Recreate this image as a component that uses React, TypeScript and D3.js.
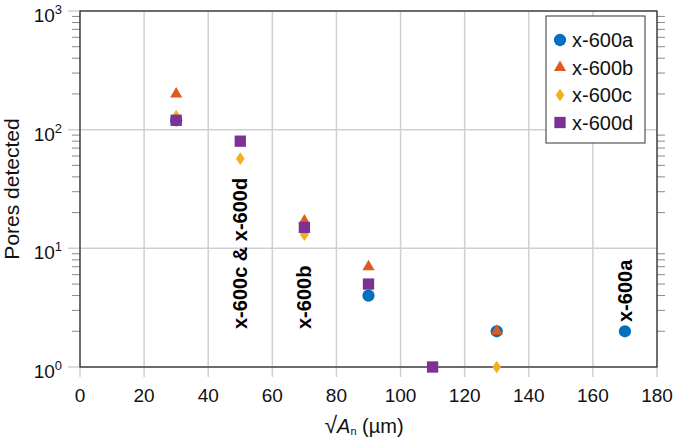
import React, { useEffect, useRef } from 'react';
import * as d3 from 'd3';

// pore size bins (sqrt area, µm) and counts per specimen
const seriesNames = ['x-600a', 'x-600b', 'x-600c', 'x-600d'];
const seriesColors = ['#0070C0', '#E0591D', '#F2B01E', '#7E3195'];
const xA = [30, 90, 130, 170];
const yA = [120, 4, 2, 2];
const xB = [30, 70, 90, 130];
const yB = [200, 17, 7, 2];
const xC = [30, 50, 70, 130];
const yC = [130, 57, 13, 1];
const xD = [30, 50, 70, 90, 110];
const yD = [120, 80, 15, 5, 1];
const xTicks = [0, 20, 40, 60, 80, 100, 120, 140, 160, 180];
const yTicks = [1, 10, 100, 1000];
const annotations = [
    { x: 50, y: 329, text: 'x-600c & x-600d' },
    { x: 70, y: 329, text: 'x-600b' },
    { x: 170, y: 322, text: 'x-600a' },
];

const App = () => {
    const ref = useRef<SVGSVGElement>(null);

    useEffect(() => {
        const svg = d3.select(ref.current);
        svg.selectAll('*').remove();

        const left = 80, right = 657, top = 11, bottom = 367;
        const font = 'Liberation Sans, Arial, sans-serif';

        const x = d3.scaleLinear().domain([0, 180]).range([left, right]);
        const y = d3.scaleLog().domain([1, 1000]).range([bottom, top]);

        // grid
        const grid = svg.append('g').attr('stroke', '#d0d0d0').attr('stroke-width', 1.5);
        xTicks.forEach(t => {
            grid.append('line').attr('x1', x(t)).attr('x2', x(t)).attr('y1', top).attr('y2', bottom + 10);
        });
        yTicks.forEach(t => {
            grid.append('line').attr('x1', left - 12).attr('x2', right).attr('y1', y(t)).attr('y2', y(t));
        });

        // minor ticks on log axis
        const minor: number[] = [];
        [1, 10, 100].forEach(dec => {
            for (let k = 2; k <= 9; k++) minor.push(dec * k);
        });
        const mt = svg.append('g').attr('stroke', '#8a8a8a').attr('stroke-width', 1);
        minor.forEach(v => {
            mt.append('line').attr('x1', left - 8).attr('x2', left).attr('y1', y(v)).attr('y2', y(v));
            mt.append('line').attr('x1', right).attr('x2', right + 8).attr('y1', y(v)).attr('y2', y(v));
        });

        // frame
        svg.append('rect')
            .attr('x', left).attr('y', top)
            .attr('width', right - left).attr('height', bottom - top)
            .attr('fill', 'none').attr('stroke', '#222').attr('stroke-width', 1.2);

        // tick labels
        xTicks.forEach(t => {
            svg.append('text')
                .attr('x', x(t)).attr('y', 402)
                .attr('text-anchor', 'middle')
                .attr('font-family', font).attr('font-size', 19)
                .attr('fill', '#111')
                .text(t);
        });
        yTicks.forEach(t => {
            const txt = svg.append('text')
                .attr('x', left - 18).attr('y', y(t) + 11)
                .attr('text-anchor', 'end')
                .attr('font-family', font).attr('font-size', 19)
                .attr('fill', '#111');
            txt.append('tspan').text('10');
            txt.append('tspan').attr('dy', -8).attr('font-size', 13).text(Math.round(Math.log10(t)));
        });

        // axis titles
        const xt = svg.append('text')
            .attr('x', 364).attr('y', 433)
            .attr('text-anchor', 'middle')
            .attr('font-family', font).attr('font-size', 20).attr('fill', '#111');
        xt.append('tspan').attr('font-size', 23).text('√');
        xt.append('tspan').attr('font-style', 'italic').text('A');
        xt.append('tspan').attr('font-size', 11).attr('dy', 2).text('n');
        xt.append('tspan').attr('dy', -2).text(' (µm)');

        svg.append('text')
            .attr('transform', `translate(19, ${(top + bottom) / 2}) rotate(-90)`)
            .attr('text-anchor', 'middle')
            .attr('font-family', font).attr('font-size', 21).attr('fill', '#111')
            .text('Pores detected');

        // markers
        const symbols = [d3.symbolCircle, d3.symbolTriangle, d3.symbolDiamond, d3.symbolSquare];
        const sizes = [118, 64, 46, 128];
        const extra = ['', '', ' scale(1.2,1)', ''];
        const data = [
            xA.map((v, i) => [v, yA[i]]),
            xB.map((v, i) => [v, yB[i]]),
            xC.map((v, i) => [v, yC[i]]),
            xD.map((v, i) => [v, yD[i]]),
        ];
        data.forEach((pts, s) => {
            const sym = d3.symbol().type(symbols[s]).size(sizes[s]);
            svg.append('g').selectAll('path')
                .data(pts)
                .enter()
                .append('path')
                .attr('d', sym())
                .attr('transform', d => `translate(${x(d[0])}, ${y(d[1])})${extra[s]}`)
                .attr('fill', seriesColors[s]);
        });

        // annotations
        annotations.forEach(a => {
            svg.append('text')
                .attr('transform', `translate(${x(a.x) + 7}, ${a.y}) rotate(-90)`)
                .attr('font-family', font).attr('font-size', 20).attr('font-weight', 'bold')
                .attr('fill', '#000')
                .text(a.text);
        });

        // legend
        const legend = svg.append('g').attr('transform', 'translate(546, 16)');
        legend.append('rect')
            .attr('width', 99).attr('height', 127)
            .attr('fill', '#fff').attr('stroke', '#333').attr('stroke-width', 1);
        seriesNames.forEach((name, i) => {
            const sym = d3.symbol().type(symbols[i]).size(sizes[i]);
            legend.append('path')
                .attr('d', sym())
                .attr('transform', `translate(14, ${24 + i * 27.5})${extra[i]}`)
                .attr('fill', seriesColors[i]);
            legend.append('text')
                .attr('x', 26).attr('y', 31 + i * 27.5)
                .attr('font-family', font).attr('font-size', 20).attr('fill', '#111')
                .text(name);
        });
    }, []);

    return (
        <svg ref={ref} width={675} height={440} style={{ display: 'block', position: 'absolute', left: 0, top: 0 }} />
    );
};

export default App;
